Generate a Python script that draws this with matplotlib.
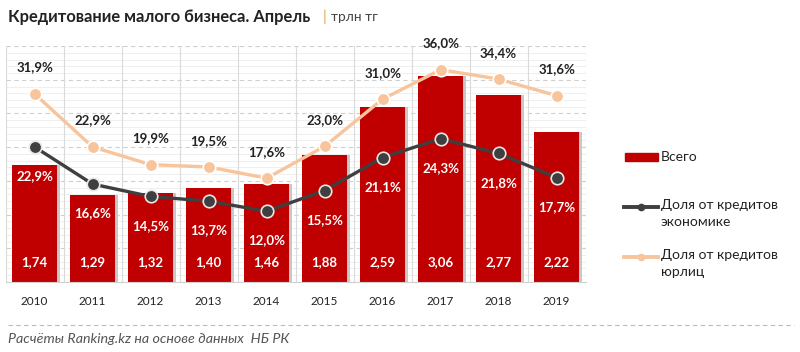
import matplotlib
matplotlib.use("Agg")
import matplotlib.pyplot as plt
from matplotlib.lines import Line2D
from matplotlib.patches import Rectangle
import numpy as np

plt.rcParams['font.family'] = ['Lato', 'DejaVu Sans']

years = ['2010', '2011', '2012', '2013', '2014', '2015', '2016', '2017', '2018', '2019']
total = [1.74, 1.29, 1.32, 1.40, 1.46, 1.88, 2.59, 3.06, 2.77, 2.22]
share_economy = [22.9, 16.6, 14.5, 13.7, 12.0, 15.5, 21.1, 24.3, 21.8, 17.7]
share_legal = [31.9, 22.9, 19.9, 19.5, 17.6, 23.0, 31.0, 36.0, 34.4, 31.6]

RED = '#C00000'
DARK = '#3F3F3F'
PEACH = '#F8C49B'

def fmt(v, d):
    return f"{v:.{d}f}".replace('.', ',')

fig = plt.figure(figsize=(8, 3.52), dpi=100)
ax = fig.add_axes([0.007, 0.199, 0.725, 0.670])
ax2 = ax.twinx()

x = np.arange(len(years))
ax.set_xlim(-0.5, len(years) - 0.5)
ax.set_ylim(0, 3.5)
ax2.set_ylim(0, 40)

# grid
for yy in np.arange(0.1, 3.5, 0.1):
    if abs(yy / 0.5 - round(yy / 0.5)) > 1e-6:
        ax.axhline(yy, color='#EDEDED', lw=0.6, zorder=0)
for yy in np.arange(0.5, 3.51, 0.5):
    ax.axhline(yy, color='#CFCFCF', lw=0.8, ls=(0, (4, 3)), zorder=0.5)
for xx in np.arange(-0.5, len(years), 1.0):
    ax.axvline(xx, color='#DADADA', lw=0.8, zorder=0.5)

# bar shadow + bars
ax.bar(x + 0.05, total, width=0.77, color='#C8C8C8', zorder=1.5)
ax.bar(x, total, width=0.77, color=RED, zorder=2)
for xi, v in zip(x, total):
    ax.annotate(fmt(v, 2), (xi, 0), xytext=(0, 14), textcoords='offset points',
                ha='center', va='center', color='white', fontsize=9.5, fontweight='bold', zorder=5)

ax2.plot(x, share_legal, color=PEACH, lw=2.4, marker='o', ms=9,
         mfc=PEACH, mec='white', mew=1.2, zorder=3)
ax2.plot(x, share_economy, color=DARK, lw=2.4, marker='o', ms=9,
         mfc=DARK, mec='#E8E8E8', mew=1.2, zorder=3)

for xi, v in zip(x, share_legal):
    ax2.annotate(fmt(v, 1) + '%', (xi, v), xytext=(0, 19), textcoords='offset points',
                 ha='center', va='center', color='#222222', fontsize=9.5, fontweight='bold')
for xi, v in zip(x, share_economy):
    ax2.annotate(fmt(v, 1) + '%', (xi, v), xytext=(0, -21), textcoords='offset points',
                 ha='center', va='center', color='white', fontsize=9.5, fontweight='bold')

for a in (ax, ax2):
    a.set_yticks([])
    for s in a.spines.values():
        s.set_visible(False)
ax.spines['bottom'].set_visible(True)
ax.spines['bottom'].set_color('#D0D0D0')
ax.set_xticks(x)
ax.set_xticklabels(years, fontsize=8.5, color='#222222')
ax.tick_params(axis='x', length=0, pad=10)

# title
fig.text(0.01, 0.953, 'Кредитование малого бизнеса. Апрель', fontsize=11.9,
         fontweight='bold', color='#222222', va='center')
fig.text(0.403, 0.953, '|', fontsize=11, color='#E0A050', va='center')
fig.text(0.414, 0.953, 'трлн тг', fontsize=9.8, color='#444444', va='center')

# legend (manual)
def fy(py):
    return 1 - py / 352.0

fig.add_artist(Rectangle((625 / 800, fy(161)), 33 / 800, 8 / 352, transform=fig.transFigure,
                         color=RED))
fig.text(661 / 800, fy(157), 'Всего', fontsize=10, color='#222222', va='center')
for (py, col, lab) in [(207, DARK, 'Доля от кредитов\nэкономике'),
                       (257, PEACH, 'Доля от кредитов\nюрлиц')]:
    fig.add_artist(Line2D([624 / 800, 658 / 800], [fy(py), fy(py)], transform=fig.transFigure,
                          color=col, lw=2.8, zorder=3))
    fig.add_artist(Line2D([641 / 800], [fy(py)], transform=fig.transFigure,
                          color=col, marker='o', ms=4.5, lw=0, zorder=4))
    fig.text(661 / 800, fy(py - 8), lab, fontsize=10, color='#222222', va='top',
             linespacing=1.45)

# footer
fig.add_artist(Line2D([0.01, 0.992], [fy(325), fy(325)], transform=fig.transFigure,
                      color='#BBBBBB', lw=0.8, ls=(0, (4, 3))))
fig.text(0.01, fy(339), 'Расчёты Ranking.kz на основе данных  НБ РК', fontsize=10.3,
         style='italic', color='#555555', va='center')

fig.savefig('out.png', dpi=100, facecolor='white')
